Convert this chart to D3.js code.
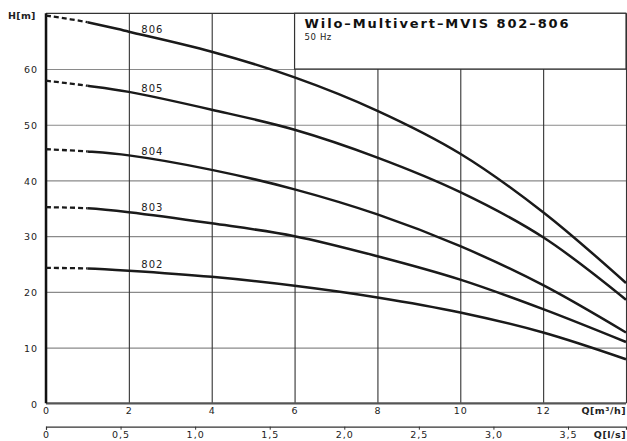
<!DOCTYPE html>
<html>
<head>
<meta charset="utf-8">
<script src="https://cdn.jsdelivr.net/npm/d3@7"></script>
<style>
  body { margin: 0; background: #fff; }
  text { font-family: "DejaVu Sans", sans-serif; fill: #222; }
</style>
</head>
<body>
<div id="canvas"></div>
<script>
// flow points (m3/h) where head values were read
const flowQ = [0, 1, 2, 4, 6, 8, 10, 12, 14];
const pumps = ["806", "805", "804", "803", "802"];
const head806 = [69.6, 68.4, 66.7, 63.1, 58.5, 52.5, 44.8, 34.3, 21.6];
const head805 = [57.9, 57.0, 55.9, 52.7, 49.1, 44.1, 37.9, 29.8, 18.6];
const head804 = [45.6, 45.2, 44.5, 41.9, 38.4, 33.9, 28.2, 21.2, 12.7];
const head803 = [35.2, 35.0, 34.3, 32.3, 30.0, 26.4, 22.2, 16.9, 11.0];
const head802 = [24.3, 24.2, 23.8, 22.7, 21.1, 19.0, 16.3, 12.7, 7.9];
const heads = [head806, head805, head804, head803, head802];
const xTicks = [0, 2, 4, 6, 8, 10, 12, 14];
const yTicks = [0, 10, 20, 30, 40, 50, 60];
const lsTicks = [0, 0.5, 1, 1.5, 2, 2.5, 3, 3.5];
const dashEndQ = 1;   // curves are dashed below this flow
const labelQ = 2.3;

const margin = { top: 13.3, right: 1, bottom: 37.7, left: 46 },
    width = 627 - margin.left - margin.right,
    height = 441 - margin.top - margin.bottom;

const svgRoot = d3.select("#canvas")
    .append("svg")
    .attr("width", 627)
    .attr("height", 441);
const svg = svgRoot.append("g")
    .attr("transform", `translate(${margin.left},${margin.top})`);

const x = d3.scaleLinear().domain([0, 14]).range([0, width]);
const y = d3.scaleLinear().domain([0, 70]).range([height, 0]);
const xLs = d3.scaleLinear().domain([0, 14 / 3.6]).range([0, width]);

// horizontal grid + y labels
const yAxis = svg.append("g")
    .call(d3.axisLeft(y).tickValues(yTicks).tickSize(-width).tickPadding(8));
yAxis.select(".domain").remove();
yAxis.selectAll(".tick line").attr("stroke", "#8a8a8a").attr("stroke-width", 1.2);
yAxis.selectAll(".tick text").style("font-size", "9.5px").style("letter-spacing", "1px").attr("dy", "0.4em");

// vertical grid + x labels
const xAxis = svg.append("g")
    .attr("transform", `translate(0,${height})`)
    .call(d3.axisBottom(x).tickValues(xTicks).tickSize(-height).tickPadding(4)
        .tickFormat(d => d === 14 ? "" : d));
xAxis.select(".domain").remove();
xAxis.selectAll(".tick line").attr("stroke", "#333").attr("stroke-width", 1.1);
xAxis.selectAll(".tick text").style("font-size", "9.5px").style("letter-spacing", "1px");

// frame
svg.append("line").attr("x1", 0).attr("x2", width).attr("y1", 0).attr("y2", 0)
    .attr("stroke", "#333").attr("stroke-width", 1.2);
svg.append("line").attr("x1", 0).attr("x2", width).attr("y1", height).attr("y2", height)
    .attr("stroke", "#555").attr("stroke-width", 2);
svg.append("line").attr("x1", 0).attr("x2", 0).attr("y1", 0).attr("y2", height)
    .attr("stroke", "#111").attr("stroke-width", 2.5);

// title box
svg.append("rect")
    .attr("x", x(6)).attr("y", y(70))
    .attr("width", x(14) - x(6)).attr("height", y(60) - y(70))
    .attr("fill", "#fff").attr("stroke", "#333").attr("stroke-width", 1.2);
svg.append("text")
    .attr("x", x(6) + 10).attr("y", 14.5)
    .style("font-size", "13px").style("font-weight", "bold").style("fill", "#111")
    .attr("textLength", 264).attr("lengthAdjust", "spacing")
    .text("Wilo–Multivert–MVIS 802–806");
svg.append("text")
    .attr("x", x(6) + 10).attr("y", 27)
    .style("font-size", "8.5px").style("letter-spacing", "0.6px")
    .text("50 Hz");

// clip regions for dashed / solid parts
const defs = svgRoot.append("defs");
defs.append("clipPath").attr("id", "clipDash").append("rect")
    .attr("x", -5).attr("y", -5).attr("width", x(dashEndQ) + 5).attr("height", height + 10);
defs.append("clipPath").attr("id", "clipSolid").append("rect")
    .attr("x", x(dashEndQ)).attr("y", -5).attr("width", width - x(dashEndQ) + 5).attr("height", height + 10);

// curves
const line = d3.line()
    .x(d => x(d[0]))
    .y(d => y(d[1]))
    .curve(d3.curveCatmullRom.alpha(0.5));

heads.forEach((h, i) => {
    const pts = flowQ.map((q, j) => [q, h[j]]);
    svg.append("path").datum(pts).attr("d", line)
        .attr("clip-path", "url(#clipDash)")
        .attr("fill", "none").attr("stroke", "#1a1a1a").attr("stroke-width", 2.3)
        .attr("stroke-dasharray", "5,3");
    svg.append("path").datum(pts).attr("d", line)
        .attr("clip-path", "url(#clipSolid)")
        .attr("fill", "none").attr("stroke", "#1a1a1a").attr("stroke-width", 2.5);
    const hl = h[2] + (h[3] - h[2]) * (labelQ + 0.3 - 2) / 2;
    svg.append("text")
        .attr("x", x(labelQ)).attr("y", y(hl) - 5)
        .style("font-size", "10px").style("letter-spacing", "1px")
        .text(pumps[i]);
});

// axis titles
svg.append("text").attr("x", -38).attr("y", 6)
    .style("font-size", "9.5px").style("font-weight", "bold").style("letter-spacing", "0.3px")
    .text("H[m]");
svg.append("text").attr("x", width).attr("y", height + 11).attr("text-anchor", "end")
    .style("font-size", "9.5px").style("font-weight", "bold").style("letter-spacing", "0.5px")
    .text("Q[m³/h]");

// second flow axis in l/s
const lsAxis = svg.append("g")
    .attr("transform", `translate(0,${height + 23.4})`)
    .call(d3.axisBottom(xLs).tickValues(lsTicks).tickSize(3).tickPadding(2)
        .tickFormat(d => d === 0 ? "0" : d3.format(".1f")(d).replace(".", ",")));
lsAxis.select(".domain").attr("stroke", "#333").attr("stroke-width", 1.2);
lsAxis.selectAll(".tick line").attr("stroke", "#333");
lsAxis.selectAll(".tick text").style("font-size", "9.5px").style("letter-spacing", "1px");
svg.append("text").attr("x", width).attr("y", height + 35).attr("text-anchor", "end")
    .style("font-size", "9.5px").style("font-weight", "bold").style("letter-spacing", "0.5px")
    .text("Q[l/s]");
</script>
</body>
</html>
